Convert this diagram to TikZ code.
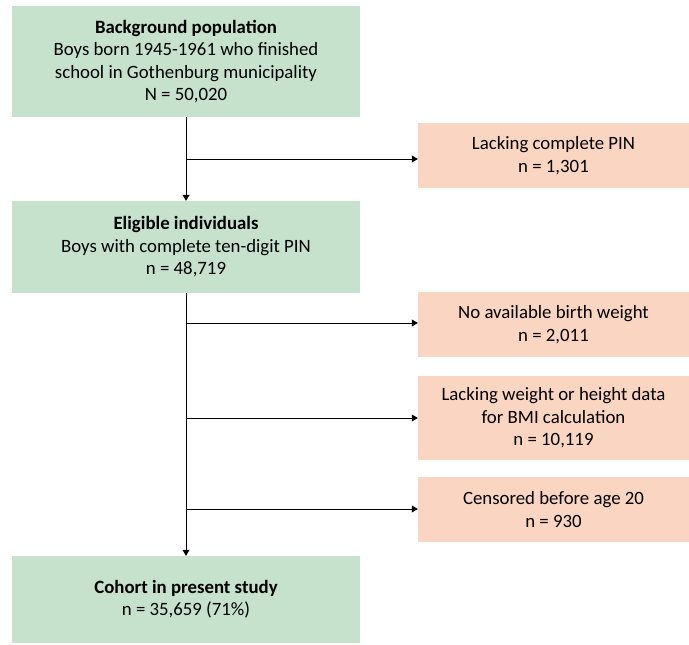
\documentclass[tikz,border=0pt]{standalone}
\usepackage{fontspec}
\setmainfont{Carlito}
\usetikzlibrary{arrows.meta}
\definecolor{boxgreen}{HTML}{C6E1CC}
\definecolor{boxpink}{HTML}{FAD5C1}
\tikzset{
	mainbox/.style={fill=boxgreen, minimum width=348pt, align=center, inner sep=0pt},
	exclbox/.style={fill=boxpink, minimum width=271pt, align=center, inner sep=0pt},
	flow/.style={line width=0.8pt, -{Triangle[width=7pt,length=6pt]}}
}
\begin{document}
		\begin{tikzpicture}[x=1pt, y=-1pt, font=\fontsize{18.8}{22.4}\selectfont]
			\useasboundingbox (0,0) rectangle (689,645);
			% green boxes
			\node[mainbox, minimum height=111pt] (background) at (186,61.5) {\textbf{Background population}\\Boys born 1945-1961 who finished\\school in Gothenburg municipality\\N = 50,020};
			\node[mainbox, minimum height=92pt] (eligible) at (186,247) {\textbf{Eligible individuals}\\Boys with complete ten-digit PIN\\n = 48,719};
			\node[mainbox, minimum height=87pt] (cohort) at (186,599.5) {\textbf{Cohort in present study}\\n = 35,659 (71\%)};
			% pink boxes
			\node[exclbox, minimum height=65pt] (nopin) at (553.5,155.5) {Lacking complete PIN\\n = 1,301};
			\node[exclbox, minimum height=65pt] (nobirth) at (553.5,324.5) {No available birth weight\\n = 2,011};
			\node[exclbox, minimum height=84pt] (nobmi) at (553.5,418) {Lacking weight or height data\\for BMI calculation\\n = 10,119};
			\node[exclbox, minimum height=65pt] (censored) at (553.5,509.5) {Censored before age 20\\n = 930};
			% branch points
			\coordinate (b1) at (186,159);
			\coordinate (b2) at (186,323);
			\coordinate (b3) at (186,418);
			\coordinate (b4) at (186,509);
			% connectors
			\draw[flow] (background.south) -- (eligible.north);
			\draw[flow] (eligible.south) -- (cohort.north);
			\draw[flow] (b1) -- (b1 -| nopin.west);
			\draw[flow] (b2) -- (b2 -| nobirth.west);
			\draw[flow] (b3) -- (b3 -| nobmi.west);
			\draw[flow] (b4) -- (b4 -| censored.west);
		\end{tikzpicture}
\end{document}
